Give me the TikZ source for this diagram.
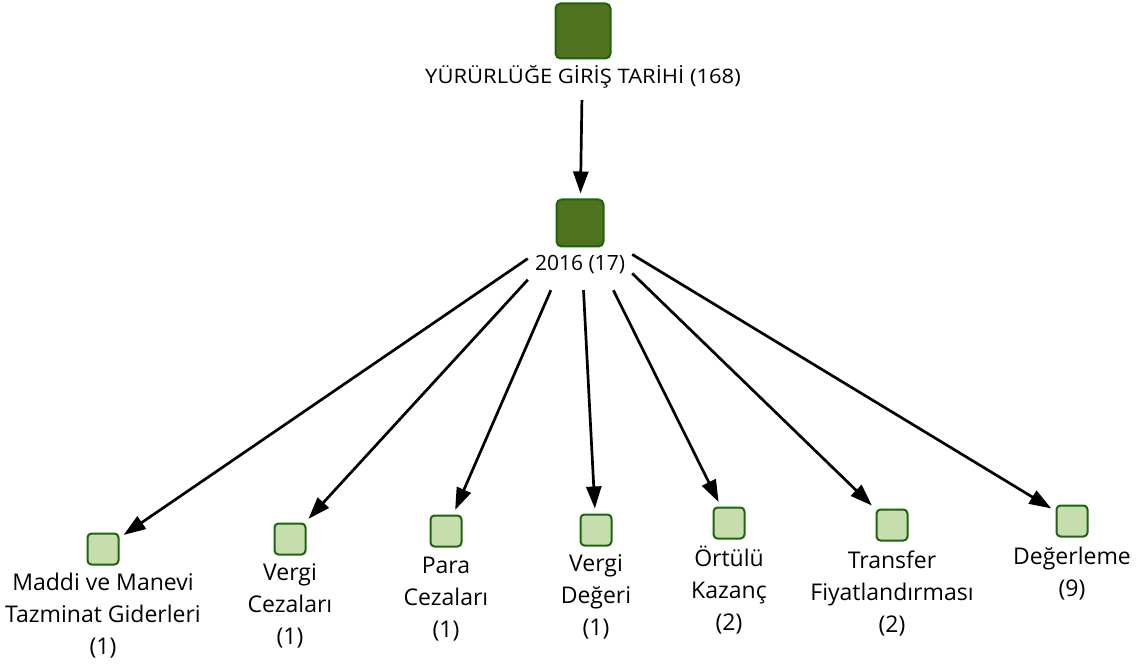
\documentclass[tikz,border=0pt]{standalone}
\usepackage{fontspec}
\setmainfont{Open Sans}
\newfontfamily\capsfont[FakeStretch=1.1]{Open Sans}
\usetikzlibrary{arrows.meta}
\definecolor{hubfill}{RGB}{78,114,30}
\definecolor{hubedge}{RGB}{30,100,10}
\definecolor{leaffill}{RGB}{198,221,174}
\definecolor{leafedge}{RGB}{30,100,15}
\begin{document}
\begin{tikzpicture}[x=1pt,y=-1pt,
  hub/.style={draw=hubedge, fill=hubfill, line width=2pt, rounded corners=5pt,
    minimum width=#1, minimum height=#1, inner sep=0pt},
  leaf/.style={draw=leafedge, fill=leaffill, line width=2pt, rounded corners=4pt,
    minimum size=31pt, inner sep=0pt},
  lab/.style={font=\fontsize{23}{32}\selectfont, align=center, inner sep=0pt, anchor=base},
  zone/.style={inner sep=0pt, minimum width=#1},
  link/.style={line width=2.7pt, -{Triangle[length=22pt,width=15pt]}, shorten >=5pt}
]
\useasboundingbox (0,0) rectangle (1144,668);

% root and year nodes
\node[hub=55pt] (root) at (583,31) {};
\node[lab, font=\capsfont\fontsize{20}{24}\selectfont] (rootlab) at (583,83.7)
  {YÜRÜRLÜĞE GİRİŞ TARİHİ (168)};
\node[zone=330pt, minimum height=138pt] (rootzone) at (583,31) {};

\node[hub=47pt] (y2016) at (580,223) {};
\node[lab, font=\fontsize{21}{24}\selectfont] (y2016lab) at (580,270.7) {2016 (17)};
\node[zone=104pt, minimum height=134pt] (y2016zone) at (580,223) {};

% topic nodes
\node[leaf] (maddi)  at (103,549) {};
\node[leaf] (vcez)   at (290,539) {};
\node[leaf] (pcez)   at (446,531) {};
\node[leaf] (vdeg)   at (596,530) {};
\node[leaf] (ortulu) at (729,523) {};
\node[leaf] (transf) at (892,525) {};
\node[leaf] (degerl) at (1072,521) {};

% labels, placed by the baseline of their last line
\node[lab] (maddilab)  at (103,654) {Maddi ve Manevi\\Tazminat Giderleri\\(1)};
\node[lab] (vcezlab)   at (290,644) {Vergi\\Cezaları\\(1)};
\node[lab] (pcezlab)   at (446,637) {Para\\Cezaları\\(1)};
\node[lab] (vdeglab)   at (596,635) {Vergi\\Değeri\\(1)};
\node[lab] (ortululab) at (729,630) {Örtülü\\Kazanç\\(2)};
\node[lab] (transflab) at (892,632) {Transfer\\Fiyatlandırması\\(2)};
\node[lab] (degerllab) at (1072,596) {Değerleme\\(9)};

% connectors
\draw[link] (rootzone) -- (y2016);
\foreach \t in {maddi,vcez,pcez,vdeg,ortulu,transf,degerl}
  \draw[link] (y2016zone) -- (\t);
\end{tikzpicture}
\end{document}
